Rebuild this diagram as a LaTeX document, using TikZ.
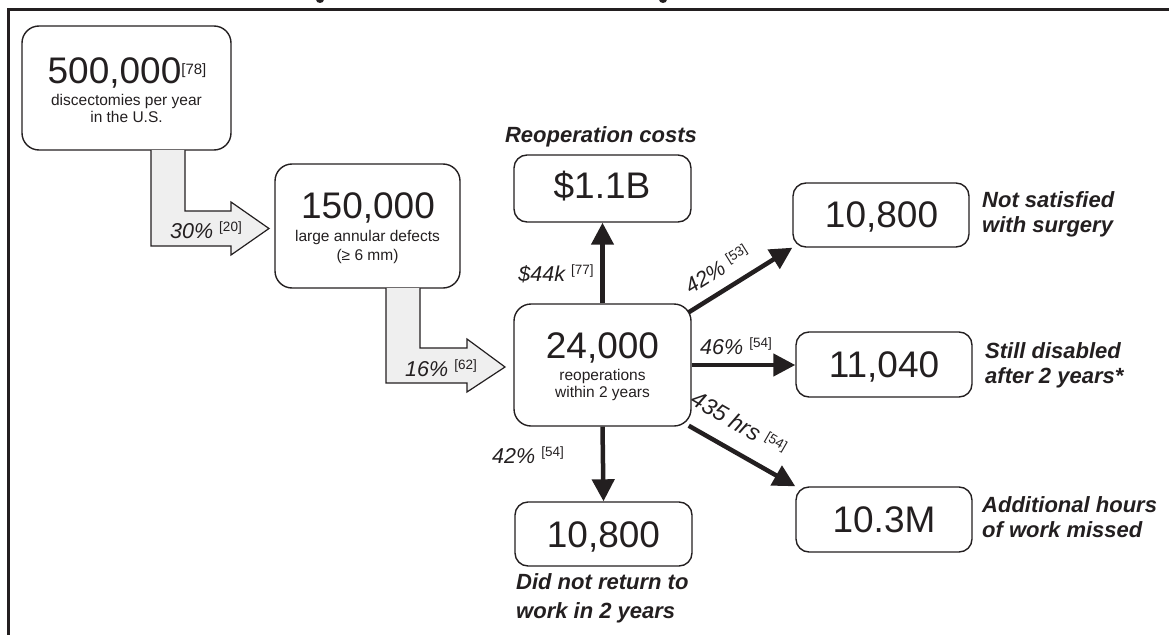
\documentclass[tikz,border=0pt]{standalone}
\usepackage{fontspec}
\setmainfont{Liberation Sans}
\usetikzlibrary{arrows.meta,calc}
\definecolor{ink}{HTML}{231F20}
\definecolor{blockfill}{HTML}{EFEFEF}
\newcommand{\rf}[2][6.5pt]{\raisebox{#1}{\fontsize{13.5}{13.5}\selectfont\upshape[#2]}}
\begin{document}
\begin{tikzpicture}[x=1pt,y=-1pt,
  box/.style={draw=ink, line width=1.4pt, rounded corners=17pt, inner sep=0pt},
  sbox/.style={draw=ink, line width=1.4pt, rounded corners=13pt, inner sep=0pt},
  big/.style={font=\fontsize{37}{37}\selectfont, text=ink, inner sep=0pt, anchor=base},
  small/.style={font=\fontsize{15.5}{17}\selectfont, text=ink, align=center, inner sep=0pt},
  lab/.style={font=\fontsize{21.5}{21.5}\selectfont\itshape, text=ink, inner sep=0pt},
  note/.style={font=\fontsize{22}{25}\selectfont\bfseries\itshape, text=ink, align=left, inner sep=0pt},
  conn/.style={draw=ink, line width=4.5pt, -{Triangle[length=22pt,width=22pt]}},
  block/.style={draw=ink, fill=blockfill, line width=1.2pt, line join=miter},
]
\useasboundingbox (0,0) rectangle (1169,634);
% frame and title remnants
\draw[ink, line width=3pt] (8.5,640) -- (8.5,9.5) -- (1175,9.5);
\fill[ink] (320,-0.5) ellipse (4 and 3.5);
\fill[ink] (663,-0.5) ellipse (4 and 3.5);

% boxes
\node[box, minimum width=209pt, minimum height=124pt] (b500) at (126.5,88) {};
\node[box, minimum width=185pt, minimum height=124pt] (b150) at (367.5,226) {};
\node[box, minimum width=177pt, minimum height=122pt] (b24) at (602.5,365) {};
\node[sbox, minimum width=177pt, minimum height=67pt] (b11) at (602.5,188.5) {};
\node[sbox, minimum width=176pt, minimum height=64pt] (b108a) at (881,215) {};
\node[sbox, minimum width=176pt, minimum height=65pt] (b1104) at (884,364.5) {};
\node[sbox, minimum width=176pt, minimum height=65pt] (b103) at (884,519.5) {};
\node[sbox, minimum width=177pt, minimum height=64pt] (b108b) at (603.5,534) {};

% box texts
\node[big] (t500) at (127,83) {500,000\raisebox{9pt}{\fontsize{15}{15}\selectfont[78]}};
\node[small] (s500) at (126.5,108.5) {discectomies per year\\in the U.S.};
\node[big] (t150) at (368,218.5) {150,000};
\node[small, font=\fontsize{15.5}{19.5}\selectfont] (s150) at (367.5,247) {large annular defects\\(≥ 6 mm)};
\node[big] (t24) at (602.5,358.5) {24,000};
\node[small] (s24) at (602.5,384.5) {reoperations\\within 2 years};
\node[big] (t11) at (602,198.5) {\$1.1B};
\node[big] (t108a) at (881.5,227.5) {10,800};
\node[big] (t1104) at (884,377.5) {11,040};
\node[big] (t103) at (884,532.5) {10.3M};
\node[big] (t108b) at (603.5,547) {10,800};

% notes
\node[note] (nreop) at (601,137) {Reoperation costs};
\node[note, anchor=west] (nsat) at (982,214.5) {Not satisfied\\with surgery};
\node[note, anchor=west] (ndis) at (985,365.5) {Still disabled\\after 2 years*};
\node[note, anchor=west] (nadd) at (982,517.5) {Additional hours\\of work missed};
\node[note, anchor=north west, font=\fontsize{22}{29}\selectfont\bfseries\itshape] (nret) at (516,573) {Did not return to\\work in 2 years};

% block arrows
\filldraw[block] (151,150) -- (151,246) -- (231,246) -- (231,255) -- (269,228.5) -- (231,202) -- (231,211) -- (185,211) -- (185,150);
\filldraw[block] (386,288) -- (386,383) -- (467,383) -- (467,392) -- (505,367) -- (467,339) -- (467,348) -- (420,348) -- (420,288);
\node[lab] (l30) at (206,230) {30\% \rf{20}};
\node[lab] (l16) at (441,368) {16\% \rf{62}};

% connectors
\draw[conn] (b24.north) -- (b11.south);
\draw[conn] ($(b24.north east)+(-3,9)$) -- (b108a.south west);
\draw[conn] (b24.east) -- (b24.east -| b1104.west);
\draw[conn] ($(b24.south east)+(-3,-1)$) -- (b103.north west);
\draw[conn] (b24.south) -- (b108b.north);

% connector labels
\node[lab] (l44) at (556,274) {\$44k \rf{77}};
\node[lab, rotate=32] (l42a) at (717,269) {42\% \rf{53}};
\node[lab] (l46) at (736,346) {46\% \rf{54}};
\node[lab, rotate=-30, font=\fontsize{23}{23}\selectfont\itshape] (l435) at (739,423) {435 hrs \rf{54}};
\node[lab] (l42b) at (528,455) {42\% \rf{54}};
\end{tikzpicture}
\end{document}
